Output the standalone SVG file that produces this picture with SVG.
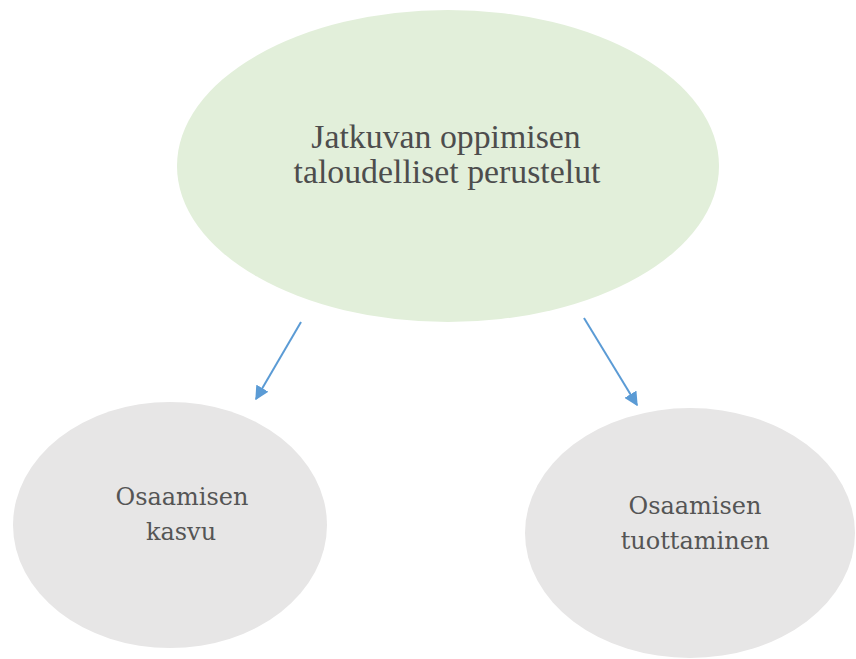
<svg xmlns="http://www.w3.org/2000/svg" width="856" height="659" viewBox="0 0 856 659">
<defs>
<style>
.lbl{fill:#555555;text-anchor:middle}
.top{font-family:"Liberation Serif","DejaVu Serif",serif;font-size:33.8px;fill:#4d4d4d}
.sub{font-family:"DejaVu Serif","Liberation Serif",serif;font-size:24px}
.conn{stroke:#5b9bd5;stroke-width:2;fill:none}
</style>
<marker id="ah" viewBox="0 0 10 10" refX="9" refY="5" markerWidth="7" markerHeight="7" orient="auto" markerUnits="strokeWidth">
<path d="M0,0 L10,5 L0,10 z" fill="#5b9bd5"/>
</marker>
</defs>
<rect width="856" height="659" fill="#ffffff"/>
<g id="top-node">
<ellipse cx="448" cy="166" rx="271" ry="156" fill="#e2efda"/>
<text class="lbl top" x="446" y="148">Jatkuvan oppimisen</text>
<text class="lbl top" x="447" y="183">taloudelliset perustelut</text>
</g>
<g id="left-node">
<ellipse cx="170" cy="525" rx="157" ry="123" fill="#e7e6e6"/>
<text class="lbl sub" x="182" y="505">Osaamisen</text>
<text class="lbl sub" x="181" y="540">kasvu</text>
</g>
<g id="right-node">
<ellipse cx="690" cy="533" rx="165" ry="125" fill="#e7e6e6"/>
<text class="lbl sub" x="695" y="514">Osaamisen</text>
<text class="lbl sub" x="695" y="549">tuottaminen</text>
</g>
<g id="connectors">
<line class="conn" x1="301" y1="322" x2="256" y2="399" marker-end="url(#ah)"/>
<line class="conn" x1="584" y1="318" x2="637" y2="405" marker-end="url(#ah)"/>
</g>
</svg>
